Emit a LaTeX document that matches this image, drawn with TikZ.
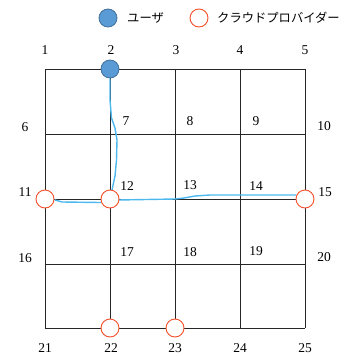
\documentclass[tikz,border=0pt]{standalone}
\usepackage{fontspec}
\setmainfont{Liberation Serif}
\newfontfamily\cjk{Noto Sans CJK JP}
\definecolor{userblue}{HTML}{5B9BD5}
\definecolor{userline}{HTML}{41719C}
\definecolor{provred}{HTML}{F4512C}
\definecolor{pathblue}{HTML}{4CB8EE}
\begin{document}
\begin{tikzpicture}[x=1pt,y=-1pt,
  gridline/.style={draw=black!85,line width=0.8pt},
  num/.style={font=\fontsize{13.5}{13.5}\selectfont,inner sep=0pt},
  user/.style={circle,fill=userblue,draw=userline,line width=0.8pt,minimum size=18pt,inner sep=0pt},
  prov/.style={circle,fill=white,draw=provred,line width=0.9pt,minimum size=18pt,inner sep=0pt},
  route/.style={draw=pathblue,line width=1.4pt,line join=round,line cap=round},
  leg/.style={font=\cjk\fontsize{12.3}{13}\selectfont,anchor=west,inner sep=0pt}]
\useasboundingbox (0,0) rectangle (344,356);
% grid coordinates
\foreach \c [count=\i from 0] in {45,110,175,240,305}{
  \foreach \r [count=\j from 0] in {69,134,199,264,328}{
    \coordinate (g\i\j) at (\c,\r);
  }
}
% grid lines
\foreach \j in {0,...,4}{\draw[gridline] (g0\j) -- (g4\j);}
\foreach \i in {0,...,4}{\draw[gridline] (g\i0) -- (g\i4);}
% labels
\node[num] (n1) at (45,50) {1};
\node[num] (n2) at (111,50) {2};
\node[num] (n3) at (176,50) {3};
\node[num] (n4) at (240,50) {4};
\node[num] (n5) at (305,50) {5};
\node[num] (n6) at (25,127) {6};
\node[num] (n7) at (126,121) {7};
\node[num] (n8) at (190,121) {8};
\node[num] (n9) at (256,121) {9};
\node[num] (n10) at (324,126) {10};
\node[num] (n11) at (25,192) {11};
\node[num] (n12) at (127,186) {12};
\node[num] (n13) at (190,185) {13};
\node[num] (n14) at (256,186) {14};
\node[num] (n15) at (325,192) {15};
\node[num] (n16) at (25,258) {16};
\node[num] (n17) at (127,252) {17};
\node[num] (n18) at (190,252) {18};
\node[num] (n19) at (256,251) {19};
\node[num] (n20) at (324,257) {20};
\node[num] (n21) at (45,348) {21};
\node[num] (n22) at (111,348) {22};
\node[num] (n23) at (175,348) {23};
\node[num] (n24) at (240,348) {24};
\node[num] (n25) at (305,348) {25};
% route
\draw[route] (110,79) -- (110,100) -- (111.5,118) -- (115,128) -- (117,140) -- (116.5,160) -- (115,176) -- (112,190);
\draw[route] (55,200) -- (62,202) -- (100,202.5) -- (104,202);
\draw[route] (118,200) -- (175,199) -- (184,198) -- (195,196) -- (210,195) -- (296,195);
% nodes
\node[user] (u2) at (g10) {};
\node[prov] (p11) at (g02) {};
\node[prov] (p12) at (g12) {};
\node[prov] (p15) at (g42) {};
\node[prov] (p22) at (g14) {};
\node[prov] (p23) at (g24) {};
% legend
\node[user] (lu) at (108,18) {};
\node[leg] (lut) at (127,18) {ユーザ};
\node[prov] (lp) at (199,18) {};
\node[leg] (lpt) at (217,18) {クラウドプロバイダー};
\end{tikzpicture}
\end{document}
